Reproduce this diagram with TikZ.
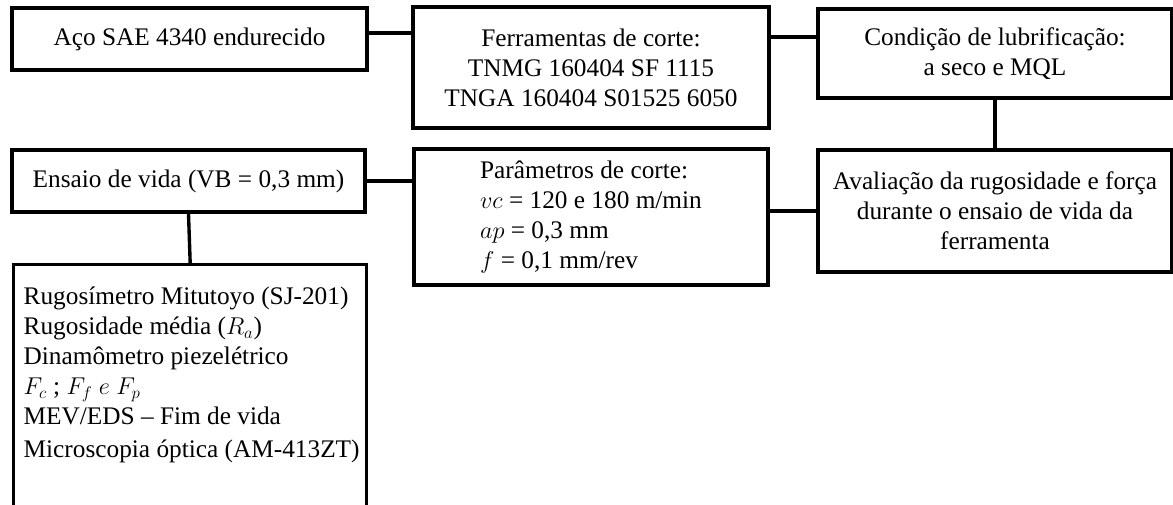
\documentclass[tikz,border=0pt]{standalone}
\usepackage{fontspec}
\setmainfont{Liberation Serif}
\tikzset{caixa/.style={draw,line width=2.4pt,inner sep=0pt,align=center},
         liga/.style={line width=2.4pt}}

\begin{document}
\begin{tikzpicture}[font=\fontsize{18}{21.3}\selectfont]
\useasboundingbox (0,0) rectangle (29.325,-12.6);
\coordinate (aco) at (4.7375,-0.975);
\coordinate (ferr) at (14.775,-1.6875);
\coordinate (cond) at (24.875,-1.3375);
\coordinate (ens) at (4.7125,-4.525);
\coordinate (par) at (14.775,-5.425);
\coordinate (aval) at (24.875,-5.275);
\coordinate (rug) at (0.3,-6.575);


\node[caixa,minimum width=8.875cm,minimum height=1.55cm] (aco) at (aco){Aço SAE 4340 endurecido};
\node[caixa,minimum width=8.9cm,minimum height=3.025cm] (ferr) at (ferr){Ferramentas de corte:\\TNMG 160404 SF 1115\\TNGA 160404 S01525 6050};
\node[caixa,minimum width=8.85cm,minimum height=2.225cm] (cond) at (cond){Condição de lubrificação:\\a seco e MQL};
\node[caixa,minimum width=8.825cm,minimum height=1.55cm] (ens) at (ens){Ensaio de vida (VB = 0,3 mm)};
\node[caixa,minimum width=8.85cm,minimum height=3.4cm,align=left] (par) at (par){Parâmetros de corte:\\$vc$ = 120 e 180 m/min\\$ap$ = 0,3 mm\\$f$ = 0,1 mm/rev};
\node[caixa,minimum width=8.85cm,minimum height=3.05cm] (aval) at (aval){Avaliação da rugosidade e força\\durante o ensaio de vida da\\ferramenta};
\node[caixa,anchor=north west,inner sep=0.25cm] (rug) at (rug){\begin{minipage}[t][6.5cm][t]{8.325cm}
\raggedright
\vspace*{0.31cm}
Rugosímetro Mitutoyo (SJ-201)\\
Rugosidade média ($R_a$)\\
Dinamômetro piezelétrico\\
$F_c$ ; $F_f$ $e$ $F_p$\\
MEV/EDS -- Fim de vida\\[2pt]
\mbox{Microscopia óptica (AM-413ZT)}
\end{minipage}};

\draw[liga] ([yshift=0.15cm]aco.east) -- ([yshift=0.15cm]aco.east -| ferr.west);
\draw[liga] ([yshift=0.41cm]cond.west) -- ([yshift=0.41cm]cond.west -| ferr.east);
\draw[liga] (cond.south) -- (aval.north);
\draw[liga] (ens.east) -- (ens.east -| par.west);
\draw[liga] (aval.west) -- (aval.west -| par.east);
\draw[liga] (ens.south) -- (rug.north);

\end{tikzpicture}
\end{document}
